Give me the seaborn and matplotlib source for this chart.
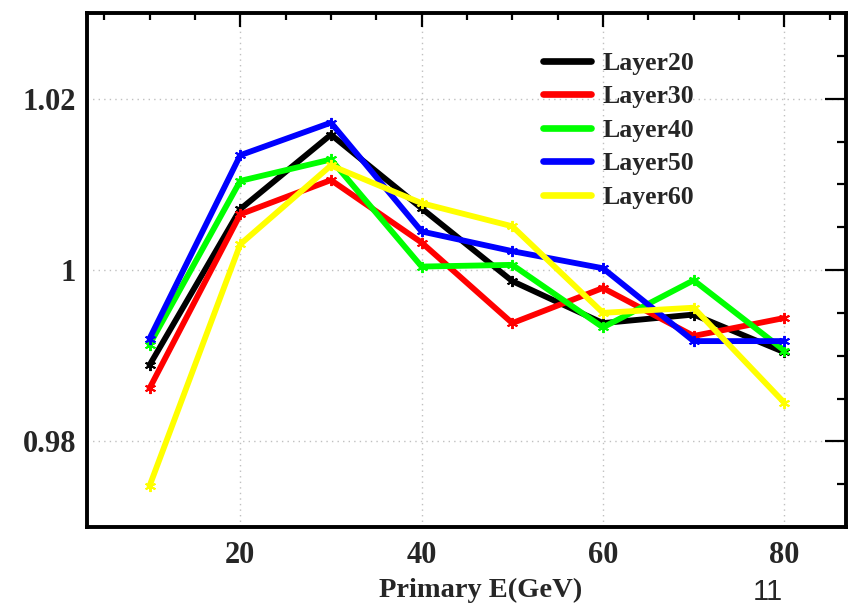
import matplotlib
matplotlib.use("Agg")
import matplotlib.pyplot as plt
from matplotlib.lines import Line2D
from matplotlib.ticker import MultipleLocator, FixedLocator
import numpy as np
import pandas as pd
import seaborn as sns

# Primary beam energies (GeV)
energy = [10, 20, 30, 40, 50, 60, 70, 80]

# Response ratio per sampling-layer configuration
layer20 = [0.9889, 1.0071, 1.0158, 1.0072, 0.9987, 0.9938, 0.9948, 0.9904]
layer30 = [0.9862, 1.0065, 1.0105, 1.0032, 0.9938, 0.9979, 0.9923, 0.9944]
layer40 = [0.9913, 1.0104, 1.0129, 1.0004, 1.0006, 0.9933, 0.9988, 0.9906]
layer50 = [0.9920, 1.0134, 1.0172, 1.0045, 1.0022, 1.0002, 0.9917, 0.9917]
layer60 = [0.9748, 1.0030, 1.0122, 1.0078, 1.0051, 0.9950, 0.9956, 0.9845]

series_names = ["Layer20", "Layer30", "Layer40", "Layer50", "Layer60"]
series_values = [layer20, layer30, layer40, layer50, layer60]
colors = ["#000000", "#ff0000", "#00ff00", "#0000ff", "#ffff00"]

x_ticks = [20, 40, 60, 80]
y_ticks = [0.98, 1.00, 1.02]
y_tick_labels = ["0.98", "1", "1.02"]

df = pd.DataFrame({
    "energy": np.tile(energy, len(series_names)),
    "ratio": np.concatenate(series_values),
    "layer": np.repeat(series_names, len(energy)),
})

sns.set_style("white")
plt.rcParams["font.family"] = ["Liberation Serif", "DejaVu Serif"]
plt.rcParams["font.weight"] = "bold"

fig = plt.figure(figsize=(8.49, 6.09), dpi=100)
ax = fig.add_axes([87 / 849, 1 - 527 / 609, (846 - 87) / 849, (527 - 13) / 609])

# dotted grid at the major ticks, beneath the curves
for xv in x_ticks:
    ax.axvline(xv, color="#c0c0c0", lw=1.0, ls=(0, (1, 3)), zorder=0)
for yv in y_ticks:
    ax.axhline(yv, color="#c0c0c0", lw=1.0, ls=(0, (1, 3)), zorder=0)

sns.lineplot(
    data=df, x="energy", y="ratio", hue="layer",
    palette=dict(zip(series_names, colors)),
    estimator=None, sort=False, legend=False, ax=ax,
    lw=4.2, marker=(6, 2, 0), markersize=8, markeredgewidth=1.4,
)
# asterisk markers take the colour of their own curve
for ln in ax.lines:
    c = ln.get_color()
    if ln.get_marker() not in (None, "None", ""):
        ln.set_markeredgecolor(c)
        ln.set_markerfacecolor(c)

ax.set_xlim(3.1, 86.8)
ax.set_ylim(0.97, 1.03)

ax.xaxis.set_major_locator(FixedLocator(x_ticks))
ax.xaxis.set_minor_locator(MultipleLocator(5))
ax.yaxis.set_major_locator(FixedLocator(y_ticks))
ax.set_yticklabels(y_tick_labels)
ax.yaxis.set_minor_locator(MultipleLocator(0.005))

ax.tick_params(axis="both", which="both", direction="in", top=True, right=True,
               width=1.6, color="black")
ax.tick_params(axis="x", which="major", length=10, labelsize=22, pad=10)
ax.tick_params(axis="x", which="minor", length=5)
ax.tick_params(axis="y", which="major", length=15, labelsize=22, pad=8)
ax.tick_params(axis="y", which="minor", length=6.5)
for lab in ax.get_xticklabels() + ax.get_yticklabels():
    lab.set_fontweight("bold")

for sp in ax.spines.values():
    sp.set_linewidth(2.8)
    sp.set_color("black")

ax.set_xlabel("Primary E(GeV)", fontsize=20.5, fontweight="bold")
ax.xaxis.set_label_coords(0.518, -0.099)
ax.set_ylabel("")

handles = [Line2D([], [], color=c, lw=4.8) for c in colors]
ax.legend(handles, series_names, loc="upper left", bbox_to_anchor=(0.601, 0.925),
          frameon=False, handlelength=1.85, handletextpad=0.45,
          labelspacing=0.41, borderpad=0, borderaxespad=0,
          prop={"weight": "bold", "size": 18.5})

fig.text(768 / 849, 1 - 592 / 609, "11", ha="center", va="center",
         fontsize=21, family=["Liberation Sans", "DejaVu Sans"], fontweight="normal")

fig.savefig("out.png", dpi=100)
